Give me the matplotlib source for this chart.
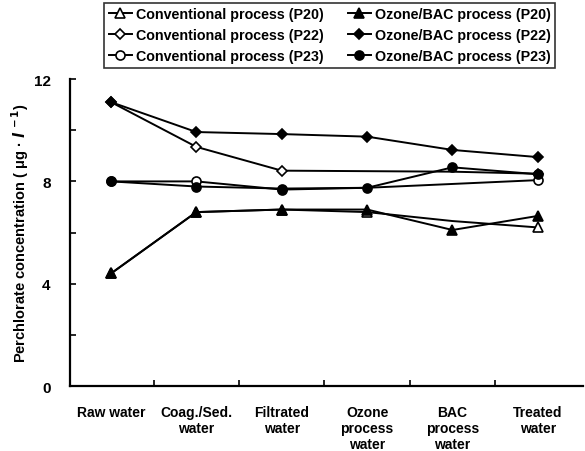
import matplotlib
matplotlib.use("Agg")
import matplotlib.pyplot as plt
import numpy as np

categories = ["Raw water", "Coag./Sed.\nwater", "Filtrated\nwater", "Ozone\nprocess\nwater", "BAC\nprocess\nwater", "Treated\nwater"]
conv_p20 = [4.4, 6.8, 6.9, 6.8, 6.45, 6.2]
ozon_p20 = [4.4, 6.8, 6.9, 6.9, 6.1, 6.65]
conv_p22 = [11.1, 9.35, 8.42, 8.4, 8.38, 8.3]
ozon_p22 = [11.1, 9.93, 9.85, 9.75, 9.23, 8.95]
conv_p23 = [8.0, 8.0, 7.68, 7.75, 7.9, 8.05]
ozon_p23 = [8.0, 7.8, 7.72, 7.75, 8.55, 8.28]
yticks = [0, 4, 8, 12]

plt.rcParams['font.family'] = ['Liberation Sans', 'DejaVu Sans']
plt.rcParams['font.weight'] = 'bold'

fig = plt.figure(figsize=(5.85, 4.52), dpi=100)
ax = fig.add_axes([0.1197, 0.1438, 0.877, 0.679])
x = np.arange(len(categories))

ms = 6.5
series = [
    (conv_p20, '^', 'white', 'Conventional process (P20)', [0, 1, 2, 3, 5]),
    (conv_p22, 'D', 'white', 'Conventional process (P22)', [0, 1, 2, 5]),
    (conv_p23, 'o', 'white', 'Conventional process (P23)', [0, 1, 2, 5]),
    (ozon_p20, '^', 'black', 'Ozone/BAC process (P20)', None),
    (ozon_p22, 'D', 'black', 'Ozone/BAC process (P22)', None),
    (ozon_p23, 'o', 'black', 'Ozone/BAC process (P23)', None),
]
handles = []
for vals, m, fc, lab, me in series:
    s = ms - 1 if m == 'D' else ms
    h, = ax.plot(x, vals, color='black', lw=1.4, marker=m, markersize=s, markevery=me,
                 markerfacecolor=fc, markeredgecolor='black', markeredgewidth=1.2, label=lab)
    handles.append(h)

ax.set_xlim(-0.48, 5.53)
ax.set_ylim(0, 12)
ax.set_yticks([0, 2, 4, 6, 8, 10, 12])
ax.set_yticklabels([str(v) if v in yticks else '' for v in [0, 2, 4, 6, 8, 10, 12]], fontsize=11, fontweight='bold')
ax.set_xticks(x)
ax.set_xticklabels(categories, fontsize=10, fontweight='bold', linespacing=1.15)
ax.set_xticks(np.arange(0.5, 5.5, 1.0), minor=True)
ax.tick_params(axis='x', which='major', length=0, pad=14)
ax.tick_params(axis='x', which='minor', direction='in', length=4, width=1.2)
ax.tick_params(axis='y', direction='in', length=4, width=1.2, pad=14)
for sp in ['top', 'right']:
    ax.spines[sp].set_visible(False)
for sp in ['left', 'bottom']:
    ax.spines[sp].set_linewidth(1.6)

ax.set_ylabel("Perchlorate concentration ( μg · $\\mathit{l}^{\\,-1}$)", fontsize=10.5, fontweight='bold', labelpad=2)

leg = fig.legend(handles=handles, loc='upper center', bbox_to_anchor=(0.564, 0.995), ncol=2,
                 frameon=True, fancybox=False, edgecolor='black',
                 handlelength=1.6, handletextpad=0.3, columnspacing=1.7, labelspacing=0.5,
                 borderpad=0.3, borderaxespad=0.1, prop={'weight': 'bold', 'size': 10.3})
leg.get_frame().set_linewidth(1.2)

fig.savefig("out.png", dpi=100)
